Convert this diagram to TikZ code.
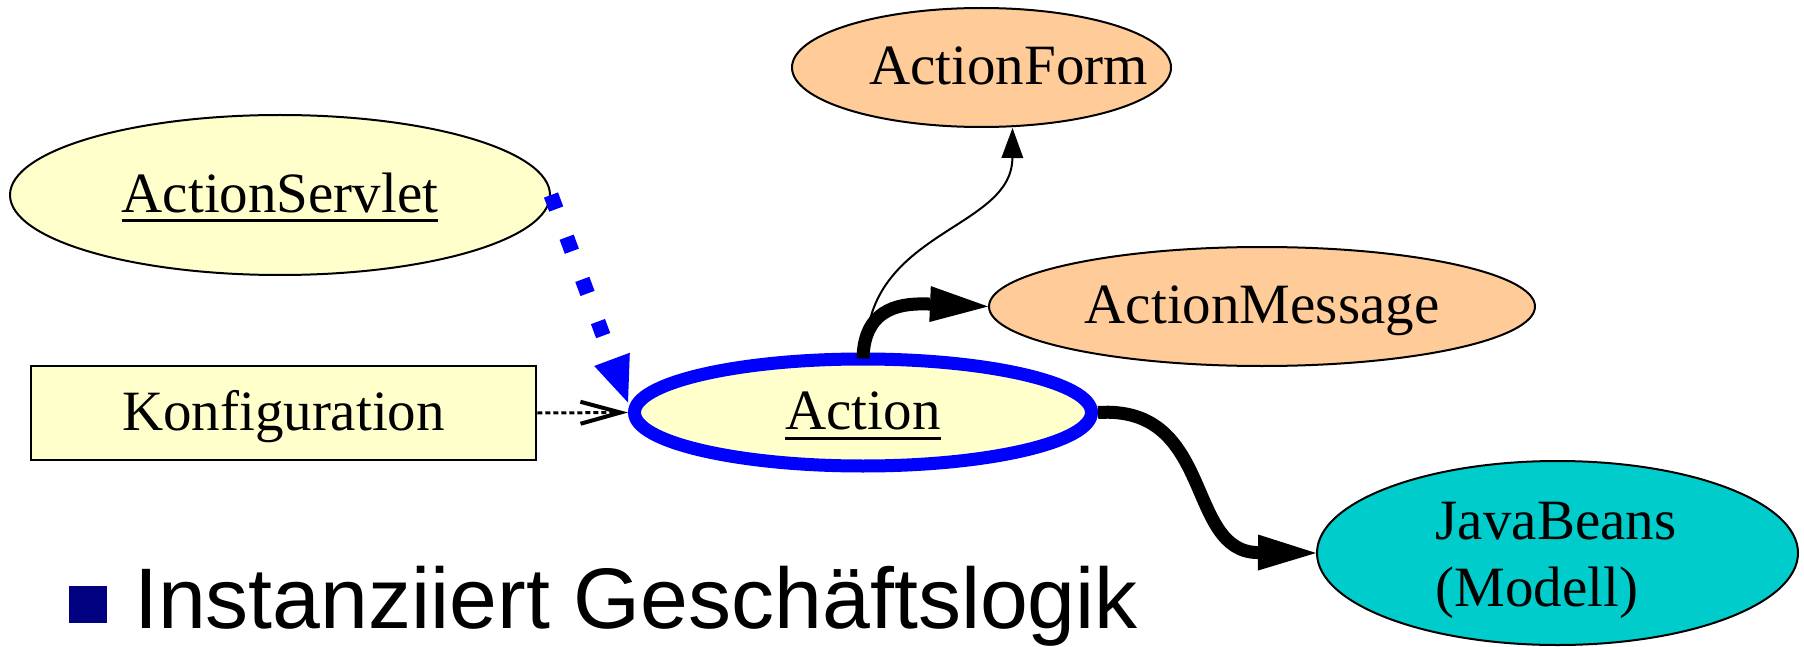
\documentclass[tikz,border=0pt]{standalone}
\usepackage{fontspec}
\setmainfont{Liberation Serif}
\newfontfamily\sansf{Liberation Sans}
\usetikzlibrary{arrows.meta,shapes.geometric}
\definecolor{nodeyellow}{HTML}{FFFFCC}
\definecolor{nodeorange}{HTML}{FFCC99}
\definecolor{nodecyan}{HTML}{00CCCC}
\definecolor{edgeblue}{HTML}{0000FF}
\definecolor{bulletnavy}{HTML}{000080}
\newcommand\nodefont{\fontsize{57}{67}\selectfont}
\newcommand\myul[1]{\setbox0=\hbox{#1}\rlap{\rule[-10pt]{\wd0}{3pt}}\box0}
\begin{document}
\begin{tikzpicture}[x=1pt,y=-1pt,
  ell/.style={ellipse, draw=black, line width=2pt, inner sep=0pt,
    text height=38pt, text depth=4pt, font=\nodefont},
  boxnode/.style={draw=black, line width=2.5pt, fill=nodeyellow, inner sep=0pt,
    text height=38pt, text depth=4pt, font=\nodefont},
  thickedge/.style={line width=13pt},
  thinedge/.style={line width=2pt}]
\fill[white] (0,0) rectangle (1804,647);
\useasboundingbox (0,0) rectangle (1804,647);

% nodes
\node[ell, fill=nodeyellow, minimum width=540pt, minimum height=160pt] (as) at (280,195)
  {\makebox[0pt]{\myul{ActionServlet}}};
\node[ell, fill=nodeorange, minimum width=379pt, minimum height=119pt] (af) at (981.5,67.5)
  {\makebox[0pt]{\hspace*{54pt}ActionForm}};
\node[ell, fill=nodeorange, minimum width=546pt, minimum height=119pt] (am) at (1262,306.5)
  {\makebox[0pt]{ActionMessage}};
\node[boxnode, minimum width=505pt, minimum height=94pt] (konf) at (283.5,413) {Konfiguration};
\node[ell, draw=edgeblue, line width=13pt, fill=nodeyellow, minimum width=457pt, minimum height=107pt] (ac) at (863,412.5)
  {\makebox[0pt]{\myul{Action}}};
\node[ell, fill=nodecyan, minimum width=481pt, minimum height=184pt] (jb) at (1557.5,553) {};
\node[inner sep=0pt, font=\nodefont, align=left] (jbtext) at (1556,560) {JavaBeans\\(Modell)};

% bullet line
\node[fill=bulletnavy, minimum width=38pt, minimum height=37pt, inner sep=0pt] (bullet) at (88,604.5) {};
\node[anchor=base west, inner sep=0pt, font=\sansf\fontsize{86}{100}\selectfont] (bulltext) at (134,628)
  {Instanziiert Geschäftslogik};

% edges
\draw[edgeblue, line width=15pt, dash pattern=on 15pt off 30pt,
  -{Triangle[length=46pt,width=38pt,line width=0pt]}]
  (as.east) -- ([yshift=10pt]ac.west);
\draw[line width=3pt, dash pattern=on 5pt off 3pt,
  -{Straight Barb[length=40pt,width=22pt,line width=4pt]}]
  (konf.east) -- (ac.west);
\draw[thickedge, -{Triangle[length=58pt,width=36pt,line width=0pt]}]
  ([yshift=-6pt]ac.north) .. controls (864,305) and (905,303) .. (am.west);
\draw[thinedge, -{Triangle[length=30pt,width=22pt,line width=0pt]}]
  ([xshift=3pt]ac.north) .. controls (866,230) and (1012,230) .. ([xshift=31pt]af.south);
\draw[thickedge, -{Triangle[length=58pt,width=36pt,line width=0pt]}]
  (ac.east) .. controls (1215,405) and (1185,552) .. (jb.west);
\end{tikzpicture}
\end{document}
